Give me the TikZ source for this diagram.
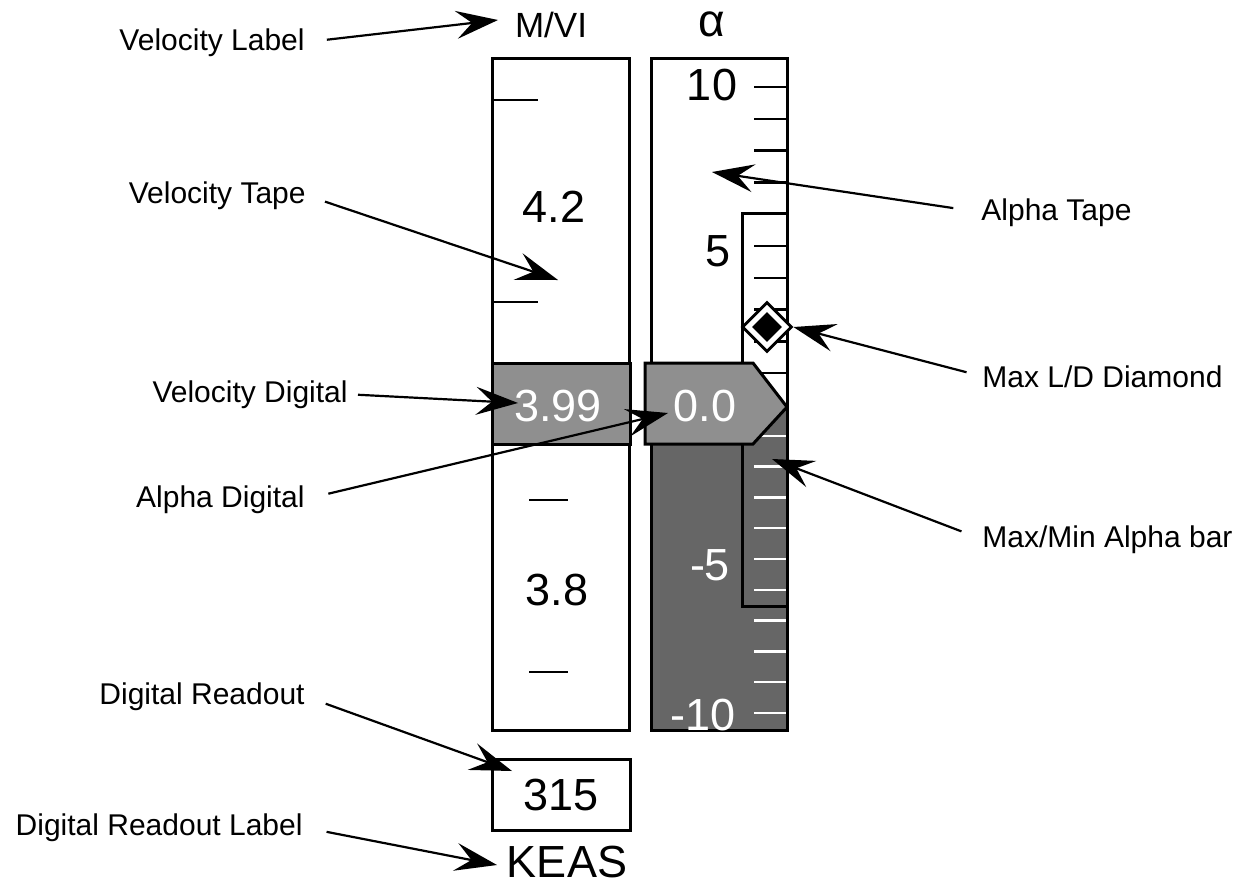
\documentclass[tikz,border=0pt]{standalone}
\usepackage{fontspec}
\setmainfont{Liberation Sans}
\usetikzlibrary{arrows.meta,shapes.geometric}

\definecolor{digitgray}{gray}{0.56}
\definecolor{tapedark}{gray}{0.40}

\tikzset{
  callout/.style={line width=1.1pt, -{Stealth[length=21pt,width=14pt,inset=8pt]}},
  lbl/.style={font=\fontsize{15}{18}\selectfont, inner sep=0pt},
  big/.style={font=\fontsize{22.5}{27}\selectfont, inner sep=0pt},
  tapeline/.style={line width=1.5pt},
  tickline/.style={line width=1.2pt},
}

\begin{document}
\begin{tikzpicture}[x=0.5pt,y=-0.5pt]
\useasboundingbox (0,0) rectangle (1252,884);

% Headings
\node[font=\fontsize{17.5}{21}\selectfont, inner sep=0pt] (mvi) at (551,25) {M/VI};
\node[font=\fontsize{23}{27}\selectfont, inner sep=0pt] (alpha) at (712,24) {α};

% Velocity tape
\draw[tapeline, fill=white] (492,58) rectangle (629,730);
\draw[tickline] (492,100) -- (538,100);
\draw[tickline] (492,302) -- (538,302);
\draw[tickline] (529,500) -- (568,500);
\draw[tickline] (529,672) -- (568,672);
\node[big] (v42) at (554,207) {4.2};
\node[big] (v38) at (557,590) {3.8};

% Velocity digital
\draw[tapeline, fill=digitgray] (492,363) rectangle (630,444);
\node[big, text=white] (vdig) at (558,406) {3.99};

% Alpha tape, white above zero and dark below
\fill[white] (651,58) rectangle (787,407);
\fill[tapedark] (651,407) rectangle (787,730);
\fill[white] (742,213) rectangle (787,407);
\fill[tapedark] (742,407) rectangle (787,606);
\foreach \a in {1,...,10}
  \draw[tickline] (754,{405-31.8*\a}) -- (787,{405-31.8*\a});
\foreach \a in {1,...,10}
  \draw[tickline, white] (754,{405+30.8*\a}) -- (787,{405+30.8*\a});
\draw[tapeline] (742,213) rectangle (787,606);
\draw[tapeline] (651,58) rectangle (787,730);

% Alpha scale numbers
\node[big] (a10) at (712,85) {10};
\node[big] (a5) at (718,251) {5};
\node[big, text=white] (am5) at (710,565) {-5};
\node[big, text=white] (am10) at (703,715) {-10};

% Max L/D diamond
\node[diamond, draw, line width=1.4pt, fill=white, minimum size=25pt, inner sep=0pt] (ldd) at (767,327) {};
\node[diamond, fill=black, minimum size=15pt, inner sep=0pt] (ldin) at (767,327) {};

% Alpha digital pointer
\draw[tapeline, fill=digitgray] (645,363) -- (753,363) -- (787,407) -- (753,444) -- (645,444) -- cycle;
\node[big, text=white] (adig) at (705,406) {0.0};

% Digital readout
\node[draw, tapeline, big, minimum width=69pt, minimum height=35.5pt, inner sep=0pt] (readout) at (561,794.5) {315};
\node[big] (keas) at (567,862) {KEAS};

% Labels
\node[lbl, anchor=base east] (vlab) at (305,50) {Velocity Label};
\node[lbl, anchor=base east] (vtape) at (306,203) {Velocity Tape};
\node[lbl, anchor=base east] (vdiglab) at (348,402) {Velocity Digital};
\node[lbl, anchor=base east] (adiglab) at (305,507) {Alpha Digital};
\node[lbl, anchor=base east] (readlab) at (305,704) {Digital Readout};
\node[lbl, anchor=base east] (keaslab) at (303,835) {Digital Readout Label};
\node[lbl, anchor=base west] (atape) at (981,220) {Alpha Tape};
\node[lbl, anchor=base west] (ldlab) at (982,387) {Max L/D Diamond};
\node[lbl, anchor=base west] (barlab) at (982,547) {Max/Min Alpha bar};

% Arrow tips
\coordinate (vlabtip) at (498,20);
\coordinate (vtapetip) at (558,280);
\coordinate (vdigtip) at (518,403);
\coordinate (adigtip) at (668,413);
\coordinate (readtip) at (512,771);
\coordinate (keastip) at (497,865);
\coordinate (atapetip) at (712,172);
\coordinate (bartip) at (772,459);

% Callout arrows
\draw[callout, shorten <=11pt] (vlab.east) -- (vlabtip);
\draw[callout, shorten <=10pt] (vtape.east) -- (vtapetip);
\draw[callout, shorten <=5pt] (vdiglab.east) -- (vdigtip);
\draw[callout, shorten <=12pt] (adiglab.east) -- (adigtip);
\draw[callout, shorten <=11pt] (readlab.east) -- (readtip);
\draw[callout, shorten <=12pt] (keaslab.east) -- (keastip);
\draw[callout, shorten <=14pt] (atape.west) -- (atapetip);
\draw[callout, shorten <=8pt] (ldlab.west) -- (ldd.east);
\draw[callout, shorten <=11pt] (barlab.west) -- (bartip);

\end{tikzpicture}
\end{document}
